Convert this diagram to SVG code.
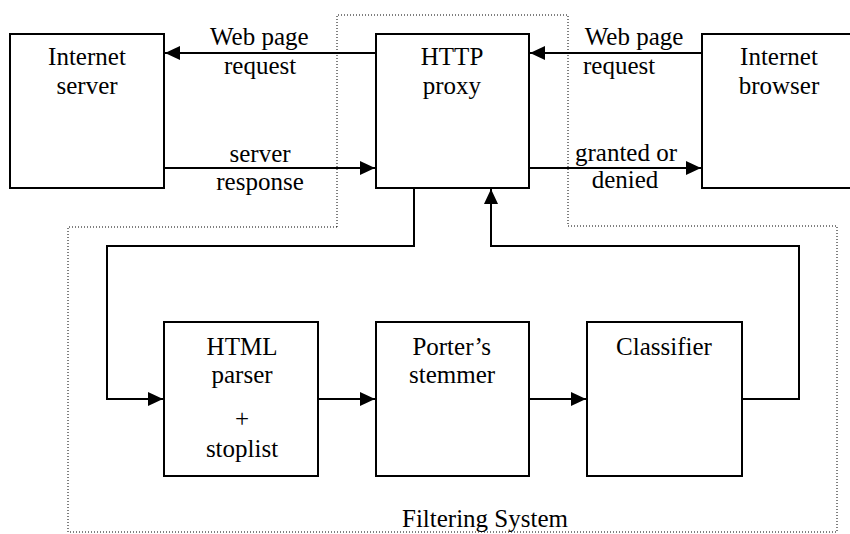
<svg xmlns="http://www.w3.org/2000/svg" width="850" height="534" viewBox="0 0 850 534">
<defs>
<marker id="ah" markerWidth="15" markerHeight="14" refX="15" refY="7" orient="auto" markerUnits="userSpaceOnUse">
<path d="M0,0 L15,7 L0,14 Z" fill="#000"/>
</marker>
</defs>
<rect width="850" height="534" fill="#fff"/>
<g id="filtering-system" font-family="Liberation Serif">
<path d="M337,227 V15 H568 V226 H837 V532 H68 V227 Z" fill="none" stroke="#000" stroke-width="1" stroke-dasharray="1,2"/>
<text x="402" y="527" style="font-family:'Liberation Serif',serif;font-size:25px">Filtering System</text>
</g>
<g id="connectors" fill="none" stroke="#000" stroke-width="2">
<line x1="376" y1="53" x2="165" y2="53" marker-end="url(#ah)"/>
<line x1="164" y1="168" x2="375" y2="168" marker-end="url(#ah)"/>
<line x1="702" y1="53" x2="530" y2="53" marker-end="url(#ah)"/>
<line x1="529" y1="168" x2="701" y2="168" marker-end="url(#ah)"/>
<polyline points="414,188 414,246 107,246 107,399 163,399" marker-end="url(#ah)"/>
<line x1="318" y1="399" x2="375" y2="399" marker-end="url(#ah)"/>
<line x1="529" y1="399" x2="586" y2="399" marker-end="url(#ah)"/>
<polyline points="742,399 799,399 799,246 491,246 491,189" marker-end="url(#ah)"/>
</g>
<g id="connector-labels" font-family="Liberation Serif">
<text x="210" y="45" style="font-family:'Liberation Serif',serif;font-size:25px">Web page</text>
<text x="224" y="74" style="font-family:'Liberation Serif',serif;font-size:25px">request</text>
<text x="229.5" y="162" style="font-family:'Liberation Serif',serif;font-size:25px">server</text>
<text x="216.3" y="190" style="font-family:'Liberation Serif',serif;font-size:25px">response</text>
<text x="584.7" y="45" style="font-family:'Liberation Serif',serif;font-size:25px">Web page</text>
<text x="583" y="74" style="font-family:'Liberation Serif',serif;font-size:25px">request</text>
<text x="575" y="161" style="font-family:'Liberation Serif',serif;font-size:25px">granted or</text>
<text x="591.7" y="188" style="font-family:'Liberation Serif',serif;font-size:25px">denied</text>
</g>
<g id="internet-server" font-family="Liberation Serif">
<rect x="10" y="34" width="154" height="154" fill="#fff" stroke="#000" stroke-width="2"/>
<text x="48.1" y="65" style="font-family:'Liberation Serif',serif;font-size:25px">Internet</text>
<text x="56.5" y="94" style="font-family:'Liberation Serif',serif;font-size:25px">server</text>
</g>
<g id="http-proxy" font-family="Liberation Serif">
<rect x="376" y="34" width="153" height="154" fill="#fff" stroke="#000" stroke-width="2"/>
<text x="420.8" y="65" style="font-family:'Liberation Serif',serif;font-size:25px">HTTP</text>
<text x="422.8" y="94" style="font-family:'Liberation Serif',serif;font-size:25px">proxy</text>
</g>
<g id="internet-browser" font-family="Liberation Serif">
<rect x="702" y="34" width="154" height="154" fill="#fff" stroke="#000" stroke-width="2"/>
<text x="740.1" y="65" style="font-family:'Liberation Serif',serif;font-size:25px">Internet</text>
<text x="738.7" y="94" style="font-family:'Liberation Serif',serif;font-size:25px">browser</text>
</g>
<g id="html-parser" font-family="Liberation Serif">
<rect x="164" y="322" width="154" height="154" fill="#fff" stroke="#000" stroke-width="2"/>
<text x="206.6" y="355" style="font-family:'Liberation Serif',serif;font-size:25px">HTML</text>
<text x="211.5" y="383" style="font-family:'Liberation Serif',serif;font-size:25px">parser</text>
<text x="235" y="427" style="font-family:'Liberation Serif',serif;font-size:25px">+</text>
<text x="205.9" y="457" style="font-family:'Liberation Serif',serif;font-size:25px">stoplist</text>
</g>
<g id="porters-stemmer" font-family="Liberation Serif">
<rect x="376" y="322" width="153" height="154" fill="#fff" stroke="#000" stroke-width="2"/>
<text x="412.4" y="355" style="font-family:'Liberation Serif',serif;font-size:25px">Porter&#8217;s</text>
<text x="409" y="383" style="font-family:'Liberation Serif',serif;font-size:25px">stemmer</text>
</g>
<g id="classifier" font-family="Liberation Serif">
<rect x="587" y="322" width="155" height="154" fill="#fff" stroke="#000" stroke-width="2"/>
<text x="616.1" y="355" style="font-family:'Liberation Serif',serif;font-size:25px">Classifier</text>
</g>
</svg>
